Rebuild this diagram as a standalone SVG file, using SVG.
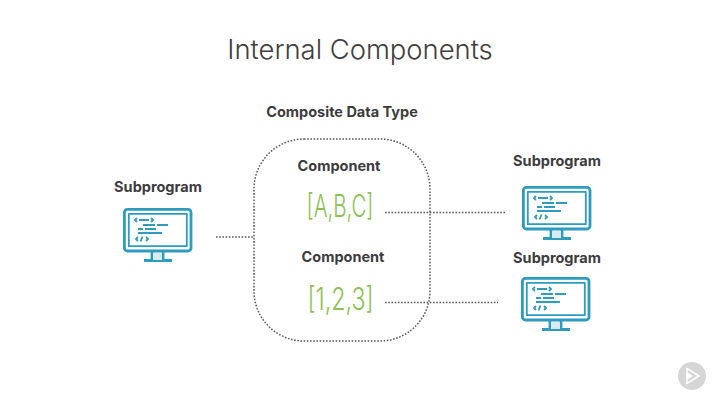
<svg xmlns="http://www.w3.org/2000/svg" width="720" height="405" viewBox="0 0 720 405">
<style>
.title{font-family:Inter,"Liberation Sans",sans-serif;font-weight:300;font-size:27.4px;fill:#404040;text-anchor:middle}
.lbl{font-family:Inter,"Liberation Sans",sans-serif;font-weight:700;font-size:14.5px;fill:#3c3c3e;text-anchor:middle}
.val{font-family:Inter,"Liberation Sans",sans-serif;font-weight:300;font-size:31px;fill:#8cc152;text-anchor:middle}
.dot{fill:none;stroke:#5a5a5a;stroke-width:1.5;stroke-dasharray:1.6 1.6}
.m{fill:none;stroke:#2f9bbd;stroke-width:2.8;stroke-linejoin:round}
.c{fill:none;stroke:#2f9bbd;stroke-width:1.8}
</style>
<defs>
<g id="monitor">
<rect class="m" x="1.400" y="1.400" width="66.600" height="41.600" rx="3"/>
<rect class="m" x="5.800" y="5.800" width="58" height="32.400" style="stroke-width:1.8"/>
<path class="m" d="M29 44v8M40 44v8M21 52.500h28"/>
<rect x="30" y="45" width="9" height="7" fill="#d8ebf1"/>
<path class="c" d="M14 10l-2 2 2 2M28 10l2 2-2 2M16 12h10M20 17h12M34 17h11M15 21h5M22 21h11M15 25h24M15 29l-2 2 2 2M23 29l2 2-2 2M17.500 33.500l2-5"/>
</g>
</defs>
<rect width="720" height="405" fill="#ffffff"/>
<text class="title" x="360" y="59">Internal Components</text>
<text class="lbl" x="342" y="117">Composite Data Type</text>
<g id="connectors">
<rect class="dot" x="254" y="139" width="176" height="202" rx="50"/>
<path class="dot" d="M216 237H254"/>
<path class="dot" d="M385 212.500H506"/>
<path class="dot" d="M385 302.500H498"/>
</g>
<g id="subprogram-left">
<text class="lbl" x="158" y="192">Subprogram</text>
<use href="#monitor" x="123" y="208"/>
</g>
<g id="component-abc">
<text class="lbl" x="339" y="171">Component</text>
<text class="val" x="340" y="217" textLength="67" lengthAdjust="spacingAndGlyphs">[A,B,C]</text>
</g>
<g id="component-123">
<text class="lbl" x="343" y="262">Component</text>
<text class="val" x="340.500" y="310" textLength="66" lengthAdjust="spacingAndGlyphs">[1,2,3]</text>
</g>
<g id="subprogram-top">
<text class="lbl" x="557" y="166">Subprogram</text>
<use href="#monitor" x="522" y="186"/>
</g>
<g id="subprogram-bottom">
<text class="lbl" x="557" y="263">Subprogram</text>
<use href="#monitor" x="521" y="277"/>
</g>
<g id="play-badge">
<circle cx="692" cy="376" r="14" fill="#d6d6d6"/>
<path d="M687 368.500L699 376L687 383.500Z" fill="none" stroke="#ffffff" stroke-width="1.500"/>
<path d="M687 372.500L693 376L687 379.500Z" fill="#ffffff"/>
</g>
</svg>
